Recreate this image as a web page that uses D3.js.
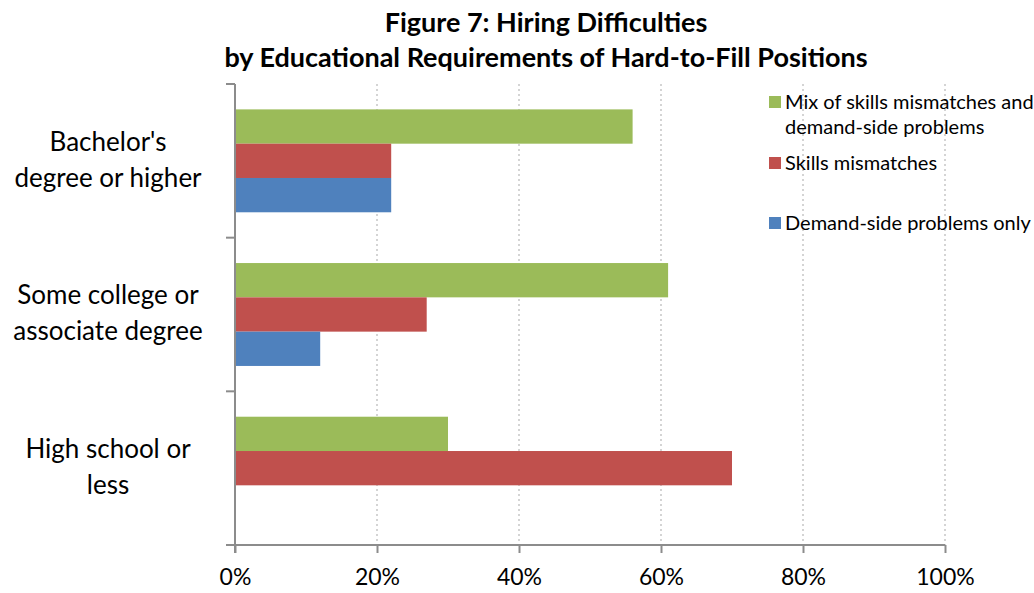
<!DOCTYPE html>
<html>
<head>
<meta charset="utf-8">
<script src="https://cdn.jsdelivr.net/npm/d3@7"></script>
<style>
  body { margin: 0; background: #fff; }
  text { font-family: Lato, "Open Sans", sans-serif; fill: #000; }
</style>
</head>
<body>
<div id="chart"></div>
<script>
// chart data
var categories = ["Bachelor's degree or higher", "Some college or associate degree", "High school or less"];
var categoryLines = [["Bachelor's", "degree or higher"], ["Some college or", "associate degree"], ["High school or", "less"]];
var seriesNames = ["Mix of skills mismatches and demand-side problems", "Skills mismatches", "Demand-side problems only"];
var legendLines = [["Mix of skills mismatches and", "demand-side problems"], ["Skills mismatches"], ["Demand-side problems only"]];
var mixValues = [56, 61, 30];
var skillsValues = [22, 27, 70];
var demandValues = [22, 12, 0];
var xTicks = [0, 20, 40, 60, 80, 100];
var colors = ["#9BBB59", "#C0504D", "#4F81BD"];

var seriesValues = [mixValues, skillsValues, demandValues];

// set the dimensions and margins of the graph
var width = 1034, height = 593;
var margin = {top: 84, right: 89, bottom: 48, left: 235};
var plotW = width - margin.left - margin.right,
    plotH = height - margin.top - margin.bottom;

var svg = d3.select("#chart").append("svg")
    .attr("width", width)
    .attr("height", height);

// title
var title = svg.append("text")
    .attr("text-anchor", "middle")
    .style("font-weight", "bold")
    .style("font-size", "27px");
title.append("tspan").attr("x", 546).attr("y", 32).text("Figure 7: Hiring Difficulties");
title.append("tspan").attr("x", 546).attr("y", 67).text("by Educational Requirements of Hard-to-Fill Positions");

var g = svg.append("g")
    .attr("transform", "translate(" + margin.left + "," + margin.top + ")");

// scales
var x = d3.scaleLinear().domain([0, 100]).range([0, plotW]);
var y = d3.scaleBand().domain(categories).range([0, plotH]).padding(0);
var ySub = d3.scaleBand().domain(d3.range(seriesNames.length))
    .range([0, y.bandwidth()]).paddingInner(0).paddingOuter(0.74);

// dotted gridlines
g.append("g")
    .selectAll("line")
    .data(xTicks.filter(function (d) { return d > 0; }))
    .enter().append("line")
    .attr("x1", function (d) { return x(d); })
    .attr("x2", function (d) { return x(d); })
    .attr("y1", 0)
    .attr("y2", plotH)
    .style("stroke", "#d4d4d4")
    .style("stroke-width", 2)
    .style("stroke-dasharray", "2,3");

// bars
var groups = g.append("g")
    .selectAll("g")
    .data(categories)
    .enter().append("g")
    .attr("transform", function (d) { return "translate(0," + y(d) + ")"; });

groups.selectAll("rect")
    .data(function (d, i) {
        return seriesValues.map(function (vals, s) { return {s: s, v: vals[i]}; });
    })
    .enter().append("rect")
    .attr("x", x(0))
    .attr("y", function (d) { return ySub(d.s); })
    .attr("height", ySub.bandwidth())
    .attr("width", function (d) { return x(d.v) - x(0); })
    .style("fill", function (d) { return colors[d.s]; });

// x axis
var xAxis = g.append("g")
    .attr("transform", "translate(0," + plotH + ")")
    .call(d3.axisBottom(x).tickValues(xTicks).tickSize(8).tickPadding(16)
        .tickFormat(function (d) { return d + "%"; }));
xAxis.select(".domain").style("stroke", "#8c8c8c").style("stroke-width", 2)
    .attr("d", "M" + (-9) + ",0H" + plotW);
xAxis.selectAll(".tick line").style("stroke", "#8c8c8c").style("stroke-width", 2);
xAxis.selectAll(".tick text")
    .style("font-family", "Lato, sans-serif")
    .style("font-size", "23px")
    .style("fill", "#000");

// y axis line and ticks at category boundaries
g.append("line")
    .attr("x1", 0).attr("x2", 0)
    .attr("y1", 0).attr("y2", plotH + 8)
    .style("stroke", "#8c8c8c").style("stroke-width", 2);
g.append("g")
    .selectAll("line")
    .data(categories)
    .enter().append("line")
    .attr("x1", -9).attr("x2", 0)
    .attr("y1", function (d) { return y(d); })
    .attr("y2", function (d) { return y(d); })
    .style("stroke", "#8c8c8c").style("stroke-width", 2);

// category labels
groups.append("text")
    .attr("text-anchor", "middle")
    .style("font-size", "26px")
    .each(function (d, i) {
        var t = d3.select(this);
        var lines = categoryLines[i];
        lines.forEach(function (line, k) {
            t.append("tspan")
                .attr("x", -127)
                .attr("y", y.bandwidth() / 2 + (k - (lines.length - 1) / 2) * 36 + 8)
                .text(line);
        });
    });

// legend
var legendRows = [102, 163, 223];
var legend = svg.append("g");
legendLines.forEach(function (lines, i) {
    legend.append("rect")
        .attr("x", 769).attr("y", legendRows[i] - 6)
        .attr("width", 12).attr("height", 12)
        .style("fill", colors[i]);
    var t = legend.append("text").style("font-size", "20px");
    lines.forEach(function (line, k) {
        t.append("tspan")
            .attr("x", 785)
            .attr("y", legendRows[i] + 7 + k * 25)
            .text(line);
    });
});
</script>
</body>
</html>
